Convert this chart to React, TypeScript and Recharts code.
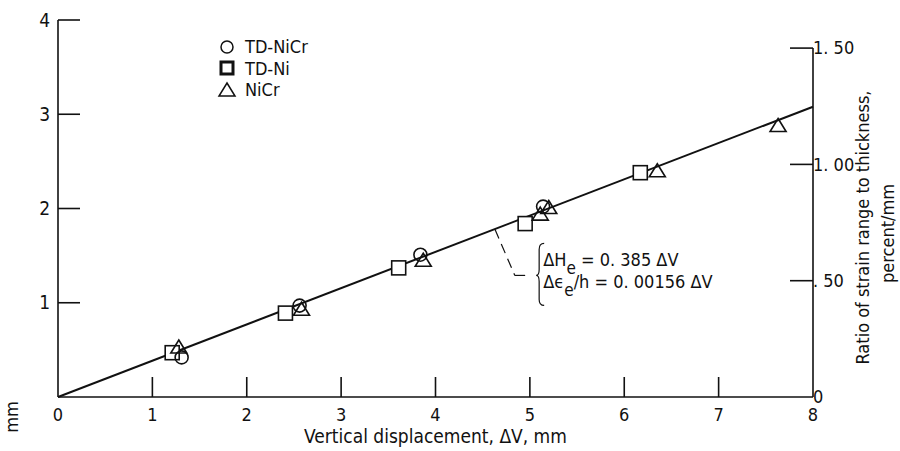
import React from 'react';
import {
  ComposedChart,
  Line,
  Scatter,
  XAxis,
  YAxis,
  ReferenceLine,
  ReferenceDot,
} from 'recharts';

// fit line: dH_e = 0.385 dV
const fitX = [0, 8];
const fitY = [0, 3.08];
// same fit on the right scale: de_e/h = 0.00156 dV (as percent/mm)
const strainY = [0, 1.248];

// measured points (vertical displacement, mm / dH_e, mm)
const tdNiCrX = [1.31, 2.56, 3.84, 5.14];
const tdNiCrY = [0.42, 0.97, 1.51, 2.02];

const tdNiX = [1.21, 2.41, 3.61, 4.95, 6.17];
const tdNiY = [0.47, 0.89, 1.37, 1.84, 2.38];

const niCrX = [1.28, 2.58, 3.87, 5.11, 5.2, 6.35, 7.63];
const niCrY = [0.52, 0.92, 1.44, 1.93, 2.0, 2.39, 2.87];

const xTicks = [0, 1, 2, 3, 4, 5, 6, 7, 8];
const leftTicks = [1, 2, 3, 4];
const rightTicks = [0, 0.5, 1, 1.5];
const rightTickLabels = ['0', '. 50', '1. 00', '1. 50'];
const seriesNames = ['TD-NiCr', 'TD-Ni', 'NiCr'];

// right axis = strain ratio, percent/mm  (0.156 / 0.385 per mm of dH_e)
const rightMax = (4 * 0.156) / 0.385;

const FONT = "'DejaVu Sans Condensed', 'Liberation Sans Narrow', 'DejaVu Sans', sans-serif";
const INK = '#111';

const zip = (xs: number[], ys: number[]) => xs.map((x, i) => ({ x, y: ys[i] }));

const fitData = zip(fitX, fitY);
const strainData = zip(fitX, strainY);
const tdNiCr = zip(tdNiCrX, tdNiCrY);
const tdNi = zip(tdNiX, tdNiY);
const niCr = zip(niCrX, niCrY);

const CircleShape = (p: any) => (
  <circle cx={p.cx} cy={p.cy} r={6.5} fill="none" stroke={INK} strokeWidth={1.6} />
);
const SquareShape = (p: any) => (
  <rect x={p.cx - 7} y={p.cy - 7} width={14} height={14} fill="#fff" stroke={INK} strokeWidth={1.6} />
);
const TriangleShape = (p: any) => (
  <path
    d={`M${p.cx},${p.cy - 8} L${p.cx + 8},${p.cy + 5} L${p.cx - 8},${p.cy + 5} Z`}
    fill="none"
    stroke={INK}
    strokeWidth={1.6}
  />
);

const LeftTick = (p: any) => {
  const ax = p.x + 8;
  return (
    <g>
      <line x1={ax} x2={ax + 22} y1={p.y} y2={p.y} stroke={INK} strokeWidth={1.6} />
      <text x={p.x} y={p.y} dy="0.35em" textAnchor="end" fontSize={19} fontFamily={FONT} fill={INK}>
        {p.payload.value}
      </text>
    </g>
  );
};

const BottomTick = (p: any) => {
  const ay = p.y - 11;
  const v = p.payload.value;
  return (
    <g>
      {v > 0 && v < 8 && (
        <line x1={p.x} x2={p.x} y1={ay} y2={ay - 20} stroke={INK} strokeWidth={1.6} />
      )}
      <text x={p.x} y={p.y} dy="0.71em" textAnchor="middle" fontSize={18} fontFamily={FONT} fill={INK}>
        {v}
      </text>
    </g>
  );
};

const RightTick = (p: any) => {
  const ax = p.x - 2;
  const v = p.payload.value;
  const idx = rightTicks.indexOf(v);
  return (
    <g>
      {v > 0 && <line x1={ax} x2={ax - 23} y1={p.y} y2={p.y} stroke={INK} strokeWidth={1.6} />}
      <text x={p.x - 2} y={p.y} dy="0.35em" textAnchor="start" fontSize={18} fontFamily={FONT} fill={INK}>
        {rightTickLabels[idx]}
      </text>
    </g>
  );
};

const RightLabel = (p: any) => {
  const vb = p.viewBox;
  const mid = vb.y + vb.height / 2;
  const x1 = vb.x + vb.width + 16;
  const y1 = mid + 19;
  const x2 = x1 + 25;
  const y2 = mid + 25;
  return (
    <g fontFamily={FONT} fontSize={18} fill={INK}>
      <text x={x1} y={y1} textAnchor="middle" transform={`rotate(-90 ${x1} ${y1})`}>
        Ratio of strain range to thickness,
      </text>
      <text x={x2} y={y2} textAnchor="middle" transform={`rotate(-90 ${x2} ${y2})`}>
        percent/mm
      </text>
    </g>
  );
};

const legendIcons: Record<string, (x: number, y: number) => React.ReactNode> = {
  'TD-NiCr': (x, y) => <circle cx={x} cy={y} r={6} fill="none" stroke={INK} strokeWidth={1.5} />,
  'TD-Ni': (x, y) => (
    <rect x={x - 6} y={y - 6} width={12} height={12} fill="none" stroke={INK} strokeWidth={3} />
  ),
  NiCr: (x, y) => (
    <path d={`M${x},${y - 7} L${x + 8},${y + 6} L${x - 8},${y + 6} Z`} fill="none" stroke={INK} strokeWidth={1.5} />
  ),
};

const LegendBox = () => (
  <div
    style={{
      position: 'absolute',
      left: 217,
      top: 36,
      fontFamily: FONT,
      fontSize: 18,
      color: INK,
      lineHeight: '21.5px',
    }}
  >
    {seriesNames.map((name) => (
      <div key={name} style={{ display: 'flex', alignItems: 'center' }}>
        <svg width={20} height={20} style={{ marginRight: 8 }}>
          {legendIcons[name](10, 10)}
        </svg>
        <span>{name}</span>
      </div>
    ))}
  </div>
);

const Annotation = (p: any) => {
  const tx = p.cx + 11;
  const ty = p.cy;
  return (
    <g>
      <path
        d={`M${tx + 8},${ty - 32} Q${tx + 3},${ty - 32} ${tx + 3},${ty - 26} L${tx + 3},${ty - 6} Q${tx + 3},${ty} ${tx},${ty} Q${tx + 3},${ty} ${tx + 3},${ty + 6} L${tx + 3},${ty + 24} Q${tx + 3},${ty + 30} ${tx + 8},${ty + 30}`}
        fill="none"
        stroke={INK}
        strokeWidth={1.2}
      />
      <text x={tx + 7} y={ty - 9} fontFamily={FONT} fontSize={18} fill={INK}>
        ΔH<tspan dy={8} fontSize={17}>e</tspan>
        <tspan dy={-8}> = 0. 385 ΔV</tspan>
      </text>
      <text x={tx + 7} y={ty + 13} fontFamily={FONT} fontSize={18} fill={INK}>
        Δϵ<tspan dy={8} fontSize={17}>e</tspan>
        <tspan dy={-8}>/h = 0. 00156 ΔV</tspan>
      </text>
    </g>
  );
};

export default function App() {
  return (
    <div style={{ position: 'absolute', left: 0, top: 0, width: 900, height: 451, background: '#fff' }}>
      <ComposedChart width={900} height={451} margin={{ top: 20, right: 47, bottom: 24, left: 18 }}>
        <XAxis
          type="number"
          dataKey="x"
          domain={[0, 8]}
          ticks={xTicks}
          interval={0}
          tickLine={false}
          tickSize={0}
          tickMargin={11}
          height={30}
          axisLine={{ stroke: INK, strokeWidth: 1.6 }}
          tick={<BottomTick />}
          label={{
            value: 'Vertical displacement, ΔV, mm',
            position: 'bottom',
            offset: 3,
            style: { fontFamily: FONT, fontSize: 19, fill: INK },
          }}
        />
        <YAxis
          yAxisId="left"
          type="number"
          dataKey="y"
          domain={[0, 4]}
          ticks={leftTicks}
          interval={0}
          width={40}
          tickLine={false}
          tickSize={0}
          tickMargin={8}
          axisLine={{ stroke: INK, strokeWidth: 1.6 }}
          tick={<LeftTick />}
        />
        <YAxis
          yAxisId="right"
          orientation="right"
          type="number"
          dataKey="y"
          domain={[0, rightMax]}
          allowDataOverflow
          ticks={rightTicks}
          interval={0}
          width={40}
          tickLine={false}
          tickSize={0}
          tickMargin={2}
          axisLine={false}
          tick={<RightTick />}
          label={<RightLabel />}
        />
        <ReferenceLine
          yAxisId="right"
          segment={[
            { x: 8, y: 0 },
            { x: 8, y: 1.5 },
          ]}
          stroke={INK}
          strokeWidth={1.6}
        />
        <Line
          yAxisId="right"
          data={strainData}
          dataKey="y"
          type="linear"
          stroke="none"
          dot={false}
          isAnimationActive={false}
        />
        <Line
          yAxisId="left"
          data={fitData}
          dataKey="y"
          type="linear"
          stroke={INK}
          strokeWidth={2}
          dot={false}
          isAnimationActive={false}
        />
        <ReferenceLine
          yAxisId="left"
          segment={[
            { x: 4.63, y: 1.78 },
            { x: 4.84, y: 1.29 },
          ]}
          stroke={INK}
          strokeWidth={1.2}
          strokeDasharray="10 6"
        />
        <ReferenceLine
          yAxisId="left"
          segment={[
            { x: 4.84, y: 1.29 },
            { x: 4.95, y: 1.29 },
          ]}
          stroke={INK}
          strokeWidth={1.2}
        />
        <ReferenceDot yAxisId="left" x={4.95} y={1.29} r={0} shape={<Annotation />} />
        <Scatter yAxisId="left" name="TD-Ni" data={tdNi} shape={<SquareShape />} isAnimationActive={false} />
        <Scatter yAxisId="left" name="NiCr" data={niCr} shape={<TriangleShape />} isAnimationActive={false} />
        <Scatter yAxisId="left" name="TD-NiCr" data={tdNiCr} shape={<CircleShape />} isAnimationActive={false} />
      </ComposedChart>
      <LegendBox />
      <svg width={40} height={451} style={{ position: 'absolute', left: 0, top: 0 }}>
        <text x={18} y={417} textAnchor="middle" transform="rotate(-90 18 417)" fontFamily={FONT} fontSize={18} fill={INK}>
          mm
        </text>
      </svg>
    </div>
  );
}
